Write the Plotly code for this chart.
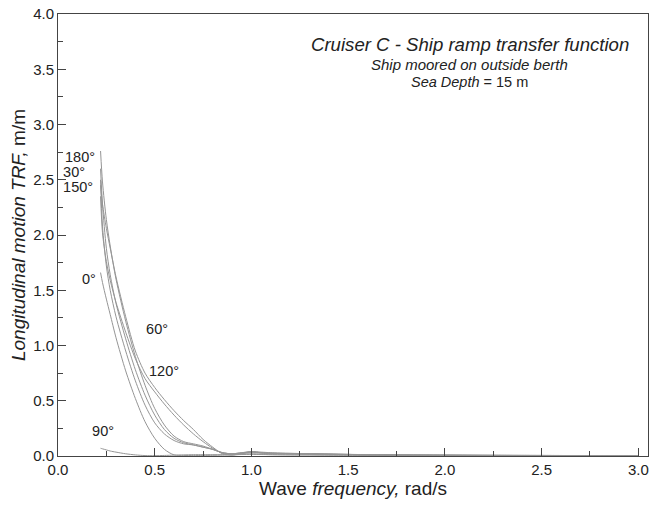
import plotly.graph_objects as go

freq = [0.22, 0.23, 0.25, 0.27, 0.30, 0.35, 0.40, 0.45, 0.50, 0.55, 0.60, 0.65,
        0.70, 0.75, 0.80, 0.85, 0.90, 0.95, 1.00, 1.05, 1.10, 1.20, 1.30, 1.40,
        1.50, 1.60, 1.75, 2.00, 2.25, 2.50, 2.75, 3.00]

trf_180 = [2.76, 2.48, 2.14, 1.90, 1.60, 1.22, 0.90, 0.64, 0.43, 0.28, 0.18, 0.13,
           0.11, 0.09, 0.06, 0.03, 0.02, 0.025, 0.03, 0.025, 0.02, 0.02, 0.018, 0.015,
           0.012, 0.010, 0.008, 0.006, 0.005, 0.004, 0.003, 0.003]
trf_30 = [2.60, 2.28, 1.88, 1.64, 1.38, 1.06, 0.78, 0.55, 0.37, 0.24, 0.16, 0.12,
          0.10, 0.08, 0.06, 0.03, 0.02, 0.03, 0.035, 0.03, 0.025, 0.02, 0.02, 0.016,
          0.014, 0.011, 0.009, 0.007, 0.005, 0.004, 0.004, 0.003]
trf_150 = [2.50, 2.08, 1.72, 1.50, 1.26, 0.95, 0.68, 0.46, 0.30, 0.20, 0.14, 0.11,
           0.10, 0.08, 0.06, 0.03, 0.02, 0.03, 0.04, 0.03, 0.025, 0.022, 0.02, 0.017,
           0.014, 0.012, 0.009, 0.007, 0.006, 0.005, 0.004, 0.003]
trf_0 = [1.66, 1.57, 1.42, 1.28, 1.07, 0.77, 0.52, 0.31, 0.16, 0.06, 0.01, 0.005,
         0.004, 0.005, 0.006, 0.008, 0.01, 0.015, 0.02, 0.015, 0.012, 0.01, 0.01, 0.008,
         0.007, 0.006, 0.005, 0.004, 0.003, 0.003, 0.002, 0.002]
trf_60 = [2.45, 2.28, 2.06, 1.88, 1.62, 1.26, 0.95, 0.75, 0.62, 0.51, 0.41, 0.32,
          0.24, 0.15, 0.08, 0.02, 0.01, 0.025, 0.04, 0.035, 0.03, 0.025, 0.02, 0.018,
          0.015, 0.012, 0.01, 0.008, 0.006, 0.005, 0.004, 0.003]
trf_120 = [2.35, 2.02, 1.76, 1.59, 1.39, 1.12, 0.88, 0.70, 0.58, 0.47, 0.37, 0.28,
           0.20, 0.13, 0.07, 0.025, 0.01, 0.02, 0.035, 0.03, 0.025, 0.022, 0.02, 0.016,
           0.014, 0.011, 0.009, 0.007, 0.006, 0.005, 0.004, 0.003]
trf_90 = [0.07, 0.065, 0.055, 0.045, 0.035, 0.02, 0.01, 0.004, 0.003, 0.005, 0.008, 0.01,
          0.012, 0.012, 0.012, 0.012, 0.012, 0.013, 0.014, 0.013, 0.012, 0.011, 0.01, 0.009,
          0.008, 0.007, 0.006, 0.005, 0.004, 0.003, 0.003, 0.002]

series = [("180°", trf_180), ("30°", trf_30), ("150°", trf_150), ("0°", trf_0),
          ("60°", trf_60), ("120°", trf_120), ("90°", trf_90)]

label_text = ["180°", "30°", "150°", "0°", "60°", "120°", "90°"]
label_x = [0.114, 0.083, 0.104, 0.16, 0.512, 0.548, 0.233]
label_y = [2.69, 2.555, 2.42, 1.59, 1.14, 0.76, 0.21]

font = "Liberation Sans, Arial, sans-serif"

fig = go.Figure()
for name, vals in series:
    fig.add_trace(go.Scatter(x=freq, y=vals, mode="lines", name=name,
                             line=dict(color="#959595", width=1, shape="spline",
                                       smoothing=0.8),
                             showlegend=False, hoverinfo="skip"))

fig.add_trace(go.Scatter(x=label_x, y=label_y, mode="text", text=label_text,
                         textfont=dict(family=font, size=14.5, color="#222222"),
                         showlegend=False, hoverinfo="skip"))

fig.update_layout(
    width=651, height=506,
    margin=dict(l=58, r=3, t=14, b=50),
    paper_bgcolor="white", plot_bgcolor="white",
    font=dict(family=font, color="#222222"),
    xaxis=dict(range=[0, 3.05], tickvals=[0, 0.5, 1.0, 1.5, 2.0, 2.5, 3.0],
               tickformat=".1f", ticks="inside", ticklen=8, tickcolor="#444",
               minor=dict(dtick=0.25, ticks="inside", ticklen=5, tickcolor="#444"),
               showline=True, linecolor="#444", linewidth=1, mirror=True,
               showgrid=False, zeroline=False, tickfont=dict(size=15),
               automargin=False,
               title=dict(text="Wave <i>frequency,</i> rad/s", font=dict(size=19),
                          standoff=4)),
    yaxis=dict(range=[0, 4.0], tickvals=[0, 0.5, 1.0, 1.5, 2.0, 2.5, 3.0, 3.5, 4.0],
               tickformat=".1f", ticks="inside", ticklen=8, tickcolor="#444",
               minor=dict(dtick=0.25, ticks="inside", ticklen=5, tickcolor="#444"),
               showline=True, linecolor="#444", linewidth=1, mirror=True,
               showgrid=False, zeroline=False, tickfont=dict(size=15),
               automargin=False,
               title=dict(text="<i>Longitudinal motion TRF,</i> m/m", font=dict(size=19),
                          standoff=2)),
    annotations=[
        dict(x=0.698, y=0.930, xref="paper", yref="paper", showarrow=False,
             xanchor="center", yanchor="middle",
             text="<i>Cruiser C - Ship ramp transfer function</i>",
             font=dict(size=18.6, color="#222222")),
        dict(x=0.698, y=0.885, xref="paper", yref="paper", showarrow=False,
             xanchor="center", yanchor="middle",
             text="<i>Ship moored on outside berth</i>",
             font=dict(size=15, color="#222222")),
        dict(x=0.698, y=0.846, xref="paper", yref="paper", showarrow=False,
             xanchor="center", yanchor="middle",
             text="<i>Sea Depth</i> = 15 m",
             font=dict(size=14.5, color="#222222")),
    ],
)

fig.write_html("out.html")
